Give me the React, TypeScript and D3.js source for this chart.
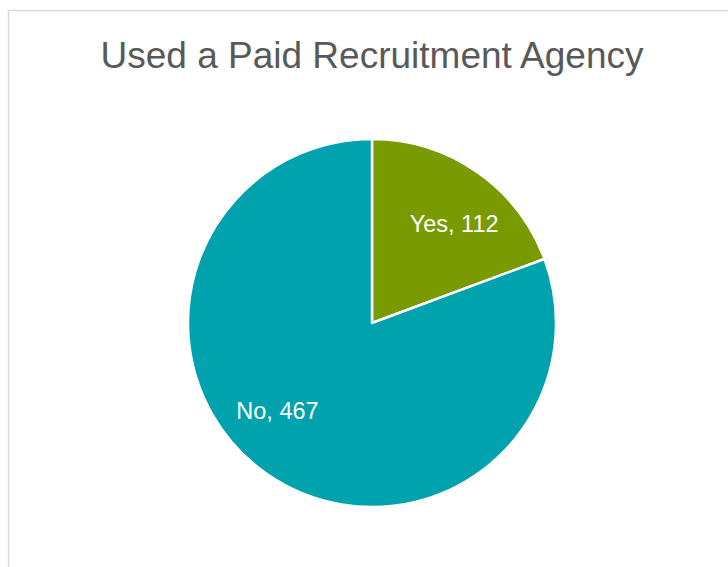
import React from 'react'
import * as d3 from 'd3'

// slice data, clockwise from 12 o'clock
const categories = ['Yes', 'No']
const counts = [112, 467]
const sliceColors = ['#7a9a01', '#00a2ad']
// Excel's "best fit" nudges labels a little past the slice middle
const labelNudgeDeg = [4.8, 12.4]

const title = 'Used a Paid Recruitment Agency'

const W = 728
const H = 567
const cx = 372
const cy = 323
const radius = 184

const App = () => {
  const dataset = categories.map((name, i) => ({ name, value: counts[i], color: sliceColors[i] }))

  const createPie = d3
    .pie<{ name: string; value: number; color: string }>()
    .value((d) => d.value)
    .sort(null)

  const createArc = d3
    .arc<d3.PieArcDatum<{ name: string; value: number; color: string }>>()
    .innerRadius(0)
    .outerRadius(radius)

  const labelR = radius * 0.7
  const arcs = createPie(dataset)

  return (
    <svg
      width={W}
      height={H}
      style={{ position: 'absolute', left: 0, top: 0, fontFamily: 'Liberation Sans, Arial, sans-serif' }}
    >
      <rect x={0} y={0} width={W} height={H} fill="#fff" />
      {/* chart area border, cropped on the right and bottom */}
      <rect x={8.5} y={10.5} width={W + 10} height={H + 10} fill="none" stroke="#d9d9d9" strokeWidth={1.5} />
      <text x={cx} y={68} textAnchor="middle" fontSize={37} fill="#595959">
        {title}
      </text>
      <g transform={`translate(${cx} ${cy})`}>
        {arcs.map((d, i) => (
          <path key={`slice-${i}`} d={createArc(d) || ''} fill={d.data.color} stroke="#fff" strokeWidth={2.5} strokeLinejoin="round" />
        ))}
        {arcs.map((d, i) => {
          const mid = (d.startAngle + d.endAngle) / 2 + (labelNudgeDeg[i] * Math.PI) / 180
          const x = labelR * Math.sin(mid)
          const y = -labelR * Math.cos(mid)
          return (
            <text key={`label-${i}`} x={x} y={y} dy="0.35em" textAnchor="middle" fontSize={23.5} fill="#fff">
              {`${d.data.name}, ${d3.format('')(d.data.value)}`}
            </text>
          )
        })}
      </g>
    </svg>
  )
}

export default App
